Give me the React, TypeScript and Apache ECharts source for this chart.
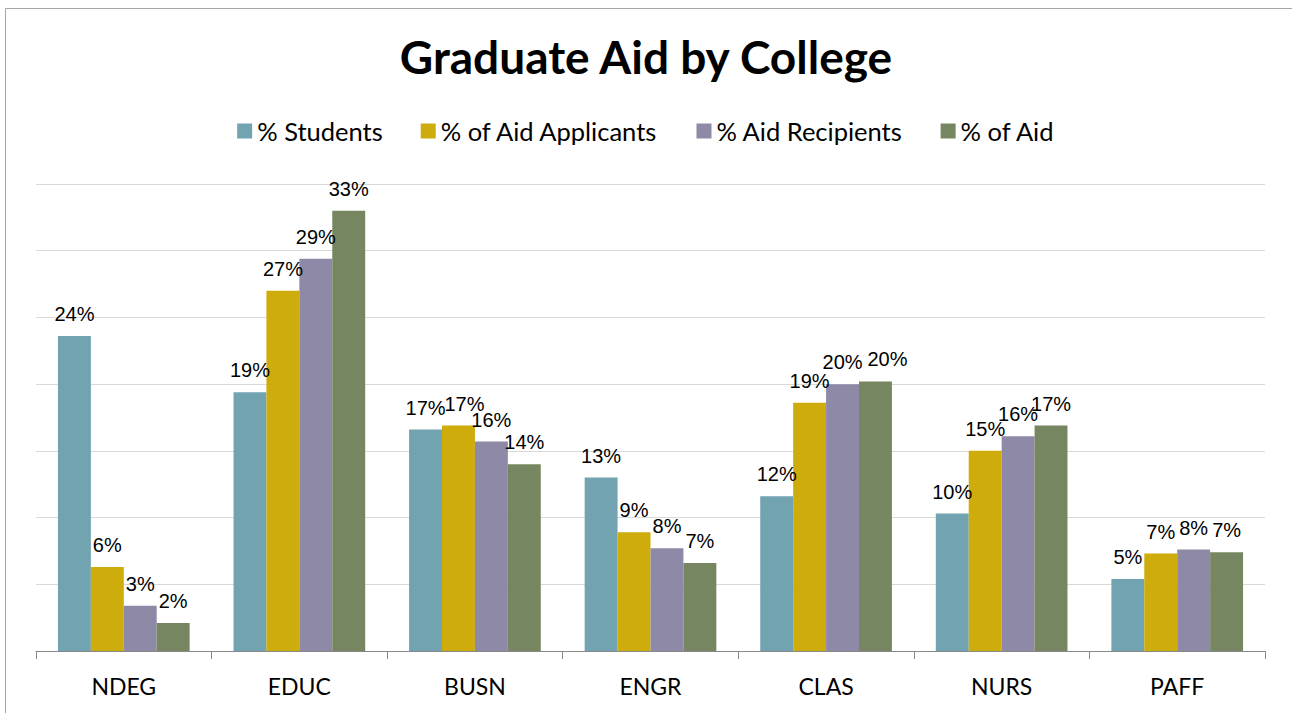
import React, { useEffect, useRef } from "react";
import * as echarts from "echarts";

const categories = ["NDEG", "EDUC", "BUSN", "ENGR", "CLAS", "NURS", "PAFF"];
const seriesNames = ["% Students", "% of Aid Applicants", "% Aid Recipients", "% of Aid"];
const students = [23.6, 19.4, 16.6, 13.0, 11.6, 10.3, 5.4];
const applicants = [6.3, 27.0, 16.9, 8.9, 18.6, 15.0, 7.3];
const recipients = [3.4, 29.4, 15.7, 7.7, 20.0, 16.1, 7.6];
const aid = [2.1, 33.0, 14.0, 6.6, 20.2, 16.9, 7.4];
const colors = ["#71a3b0", "#cdac0c", "#8d89a6", "#758660"];
// horizontal nudges for labels that would collide: [seriesIndex, categoryIndex, dx]
const labelNudges: [number, number, number][] = [
  [1, 2, 6],
  [3, 4, 12],
];

export default function App() {
  const ref = useRef<HTMLDivElement>(null);
  useEffect(() => {
    document.body.style.margin = "0";
    const chart = echarts.init(ref.current!, null, { renderer: "svg" });
    const data = [students, applicants, recipients, aid];
    chart.setOption({
      animation: false,
      backgroundColor: "#ffffff",
      title: {
        text: "Graduate Aid by College",
        left: "center",
        top: 28,
        textStyle: { fontFamily: "Lato", fontWeight: "bold", fontSize: 46, color: "#000" },
      },
      legend: {
        top: 113,
        left: "center",
        itemWidth: 15,
        itemHeight: 15,
        itemGap: 38,
        icon: "rect",
        textStyle: { fontFamily: "Lato", fontSize: 25.5, color: "#000" },
        data: seriesNames,
      },
      grid: { left: 36, right: 27, top: 184, bottom: 62, containLabel: false },
      xAxis: {
        type: "category",
        data: categories,
        axisLine: { lineStyle: { color: "#888", width: 1 } },
        axisTick: { show: true, length: 8, lineStyle: { color: "#888" } },
        axisLabel: { fontFamily: "Lato", fontSize: 23, color: "#000", margin: 23 },
      },
      yAxis: {
        type: "value",
        min: 0,
        max: 35,
        interval: 5,
        axisLabel: { show: false },
        axisLine: { show: false },
        axisTick: { show: false },
        splitLine: { lineStyle: { color: "#d9d9d9", width: 1 } },
      },
      graphic: [
        {
          type: "rect",
          shape: { x: 5.5, y: 8.5, width: 1400, height: 800 },
          style: { fill: "none", stroke: "#a6a6a6", lineWidth: 1 },
          silent: true,
        },
      ],
      series: seriesNames.map((name, i) => ({
        name,
        type: "bar",
        data: data[i].map((v, j) => {
          const n = labelNudges.find((x) => x[0] === i && x[1] === j);
          return n ? { value: v, label: { offset: [n[2], 0] } } : v;
        }),
        barGap: "0%",
        barCategoryGap: "25%",
        itemStyle: { color: colors[i] },
        label: {
          show: true,
          position: "top",
          distance: 12,
          formatter: (p: any) => Math.round(p.value) + "%",
          fontFamily: "Liberation Sans",
          fontSize: 20,
          color: "#000",
        },
      })),
    });
    return () => chart.dispose();
  }, []);
  return <div ref={ref} style={{ width: 1292, height: 713 }} />;
}
